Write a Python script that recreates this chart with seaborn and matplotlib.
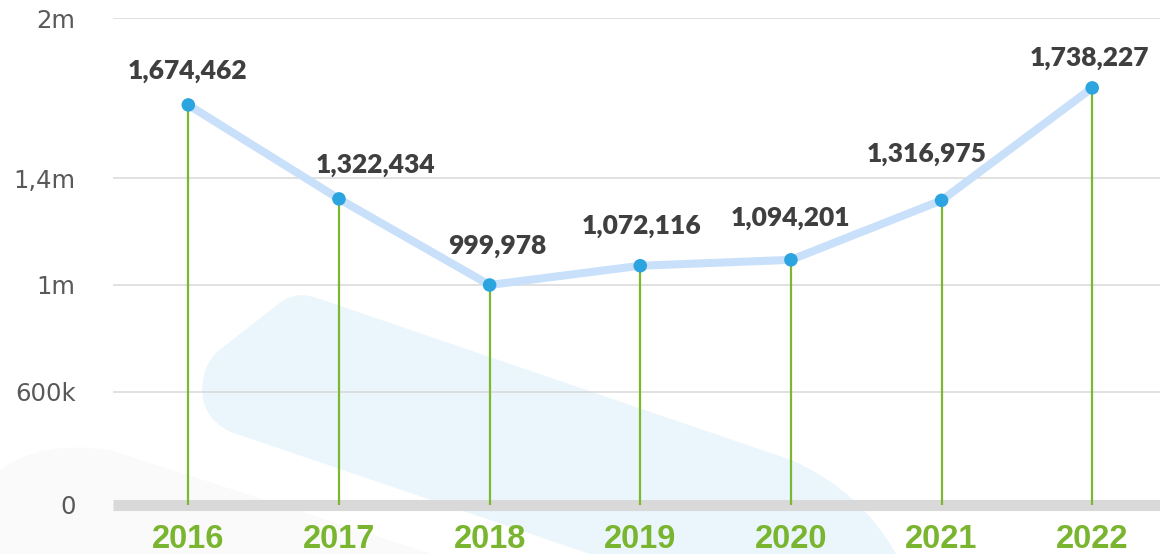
import numpy as np
import pandas as pd
import matplotlib
matplotlib.use("Agg")
import matplotlib.pyplot as plt
import seaborn as sns
from matplotlib.path import Path
from matplotlib.patches import PathPatch

# ---- data ----
years = ["2016", "2017", "2018", "2019", "2020", "2021", "2022"]
values = [1674462, 1322434, 999978, 1072116, 1094201, 1316975, 1738227]
ytick_values = [176000, 600000, 1000000, 1400000, 2000000]
ytick_labels = ["0", "600k", "1m", "1,4m", "2m"]

# label nudges in pixels (dx, dy above the point)
label_dx = [-1, 37, 8, 1, 0, -15, -3]
label_dy = [34, 34, 39, 40, 42, 46, 30]

W, H = 1160, 554
df = pd.DataFrame({"pos": np.arange(len(years)), "year": years, "value": values})

sns.set_theme(style="white")
fig = plt.figure(figsize=(W / 100, H / 100), dpi=100)
fig.patch.set_facecolor("white")


def px(x, y):
    return (x / W, 1 - y / H)


# background decoration (light blue swoosh + faint grey arc)
swoosh = [
    (Path.MOVETO, (317, 298)),
    (Path.LINETO, (791, 460)),
    (Path.CURVE3, (860, 490)), (Path.CURVE3, (896, 554)),
    (Path.LINETO, (590, 554)),
    (Path.LINETO, (231, 432)),
    (Path.CURVE3, (195, 415)), (Path.CURVE3, (204, 375)),
    (Path.CURVE3, (207, 362)), (Path.CURVE3, (217, 352)),
    (Path.LINETO, (277, 305)),
    (Path.CURVE3, (295, 290)), (Path.CURVE3, (317, 298)),
    (Path.CLOSEPOLY, (317, 298)),
]
codes, pts = zip(*swoosh)
fig.add_artist(PathPatch(Path([px(*p) for p in pts], codes), transform=fig.transFigure,
                         facecolor="#eaf5fc", edgecolor="none", zorder=-2))
arc = [
    (Path.MOVETO, (0, 470)),
    (Path.CURVE3, (40, 440)), (Path.CURVE3, (110, 450)),
    (Path.LINETO, (432, 554)),
    (Path.LINETO, (0, 554)),
    (Path.CLOSEPOLY, (0, 554)),
]
codes, pts = zip(*arc)
fig.add_artist(PathPatch(Path([px(*p) for p in pts], codes), transform=fig.transFigure,
                         facecolor="#fafafa", edgecolor="none", zorder=-3))

ax = fig.add_axes([113 / W, 1 - 505 / H, (W - 113) / W, (505 - 18) / H])
ax.set_facecolor("none")

ybottom = ytick_values[0]
ax.vlines(df["pos"], ybottom, df["value"], color="#7cb82f", linewidth=1.6, zorder=2)
sns.lineplot(data=df, x="pos", y="value", ax=ax, color="#c9e0fb", linewidth=5.8,
             solid_capstyle="round", zorder=3)
sns.scatterplot(data=df, x="pos", y="value", ax=ax, color="#2ba4df", s=95,
                edgecolor="none", zorder=4)

for p, v, dx, dy in zip(df["pos"], df["value"], label_dx, label_dy):
    ax.annotate(f"{v:,}", (p, v), xytext=(dx, dy), textcoords="offset pixels",
                ha="center", va="center", fontsize=19, fontweight=800,
                family=["Lato", "DejaVu Sans"], color="#3f3f3f", zorder=5)

ax.set_xlim(-0.5, 6.45)
ax.set_ylim(ybottom, 2000000)
ax.set_xticks(df["pos"])
ax.set_xticklabels(years, fontsize=23.5, fontweight="bold",
                   family=["Liberation Sans", "DejaVu Sans"], color="#7ab530")
ax.set_yticks(ytick_values)
ax.set_yticklabels(ytick_labels, fontsize=17.5, color="#595959")
ax.tick_params(axis="x", length=0, pad=14)
ax.tick_params(axis="y", length=0, pad=27)
ax.set_xlabel("")
ax.set_ylabel("")

ax.yaxis.grid(True, color="#d9d9d9", linewidth=1.1)
ax.xaxis.grid(False)
ax.set_axisbelow(True)
for side in ["left", "right", "top"]:
    ax.spines[side].set_visible(False)
ax.spines["bottom"].set_color("#d9d9d9")
ax.spines["bottom"].set_linewidth(8)
ax.spines["bottom"].set_capstyle("butt")
ax.spines["bottom"].set_zorder(1)

fig.savefig("out.png", dpi=100)
